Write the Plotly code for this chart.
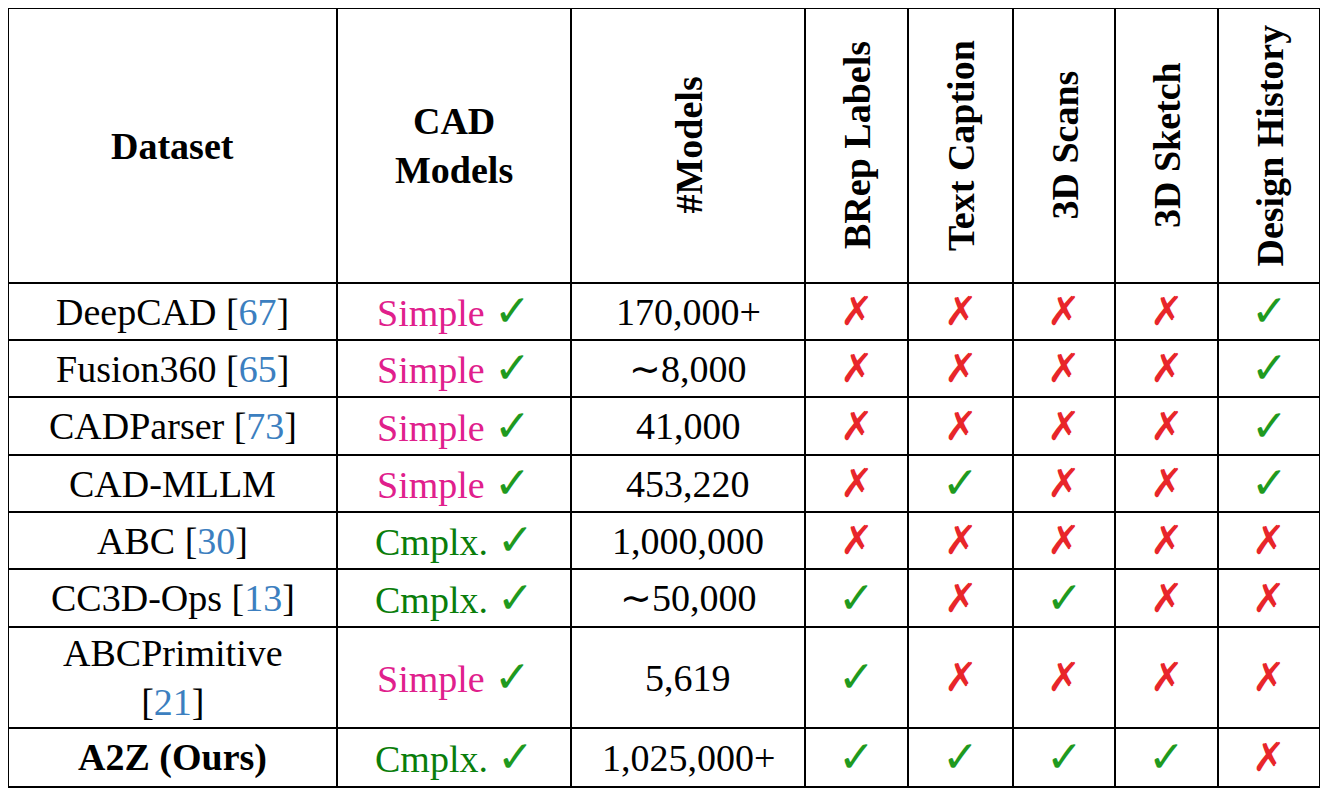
import plotly.graph_objects as go

datasets = ["DeepCAD", "Fusion360", "CADParser", "CAD-MLLM", "ABC", "CC3D-Ops", "ABCPrimitive", "A2Z (Ours)"]
refs = ["67", "65", "73", "", "30", "13", "21", ""]
cad_type = ["Simple", "Simple", "Simple", "Simple", "Cmplx.", "Cmplx.", "Simple", "Cmplx."]
n_models = ["170,000+", "∼8,000", "41,000", "453,220", "1,000,000", "∼50,000", "5,619", "1,025,000+"]
features = ["BRep Labels", "Text Caption", "3D Scans", "3D Sketch", "Design History"]
# 1 = check, 0 = cross
has = [
    [0, 0, 0, 0, 1],
    [0, 0, 0, 0, 1],
    [0, 0, 0, 0, 1],
    [0, 1, 0, 0, 1],
    [0, 0, 0, 0, 0],
    [1, 0, 1, 0, 0],
    [1, 0, 0, 0, 0],
    [1, 1, 1, 1, 0],
]

col_x = [8, 337, 571, 805, 908, 1013, 1115, 1218, 1320]
row_y = [8, 283, 340, 397, 455, 512, 569, 627, 728, 787]

BLUE = "#3c7fc0"
MAG = "#e0208c"
DGREEN = "#0a7d0a"
CHK = "#1f9a1f"
RED = "#e8262a"
FONT = "Liberation Serif"

fig = go.Figure()
shapes = []
for x in col_x:
    shapes.append(dict(type="line", x0=x, x1=x, y0=row_y[0], y1=row_y[-1], line=dict(color="black", width=2)))
for y in row_y:
    shapes.append(dict(type="line", x0=col_x[0], x1=col_x[-1], y0=y, y1=y, line=dict(color="black", width=2)))

ann = []
def add(x, y, text, size=38, angle=0, color="black"):
    ann.append(dict(x=x, y=y, text=text, showarrow=False, textangle=angle,
                    font=dict(family=FONT, size=size, color=color), xanchor="center", yanchor="middle"))

cx = [(col_x[i] + col_x[i + 1]) / 2 for i in range(len(col_x) - 1)]
hy = (row_y[0] + row_y[1]) / 2
add(cx[0], hy, "<b>Dataset</b>", 38)
add(cx[1], hy, "<b>CAD<br>Models</b>", 38)
add(cx[2], hy, "<b>#Models</b>", 38, -90)
for j, f in enumerate(features):
    add(cx[3 + j], hy, "<b>" + f + "</b>", 38, -90)

for i in range(len(datasets)):
    cy = (row_y[i + 1] + row_y[i + 2]) / 2
    name = datasets[i]
    if name.startswith("A2Z"):
        t = "<b>" + name + "</b>"
    elif refs[i]:
        sep = "<br>" if name == "ABCPrimitive" else " "
        t = f"{name}{sep}[<span style='color:{BLUE}'>{refs[i]}</span>]"
    else:
        t = name
    add(cx[0], cy, t, 38)
    c = MAG if cad_type[i] == "Simple" else DGREEN
    add(cx[1], cy, f"<span style='color:{c}'>{cad_type[i]}</span> <span style='color:{CHK};font-size:44px'>✓</span>", 38)
    add(cx[2], cy, n_models[i], 38)
    for j in range(len(features)):
        if has[i][j]:
            add(cx[3 + j], cy, "✓", 44, color=CHK)
        else:
            add(cx[3 + j], cy, "✗", 40, color=RED)

fig.update_layout(
    width=1328, height=797, margin=dict(l=0, r=0, t=0, b=0),
    paper_bgcolor="white", plot_bgcolor="white",
    xaxis=dict(range=[8, 1336], visible=False, fixedrange=True),
    yaxis=dict(range=[805, 8], visible=False, fixedrange=True),
    shapes=shapes, annotations=ann, showlegend=False,
)
fig.write_html("out.html")
